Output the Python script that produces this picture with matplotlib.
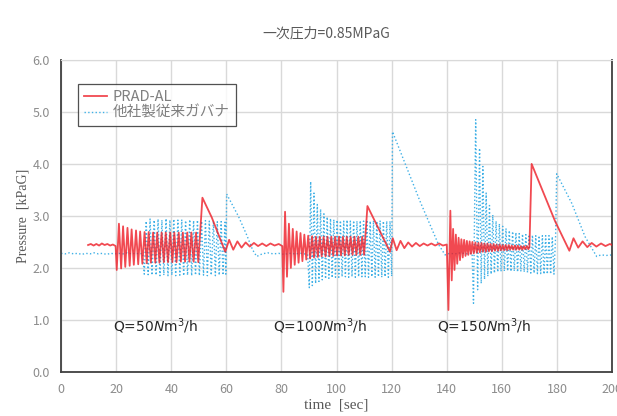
import matplotlib
matplotlib.use("Agg")
import matplotlib.pyplot as plt

plt.rcParams['font.family'] = ['Noto Sans CJK JP', 'DejaVu Sans']
plt.rcParams['mathtext.fontset'] = 'dejavusans'

# PRAD-AL trace (time [sec], pressure [kPaG])
red_t = [9.8, 10.8, 11.8, 12.8, 13.8, 14.8, 15.8, 16.8, 17.8, 18.8, 19.8,
         20.2, 21.0, 21.8, 22.5, 23.3, 24.1, 24.9, 25.6, 26.4, 27.2, 28.0, 28.7, 29.5, 30.3,
         31.1, 31.8, 32.6, 33.4, 34.2, 34.9, 35.7, 36.5, 37.3, 38.0, 38.8, 39.6, 40.4, 41.1,
         41.9, 42.7, 43.5, 44.2, 45.0, 45.8, 46.6, 47.3, 48.1, 49.0, 49.8,
         51.3, 54.7, 59.6,
         61.0, 62.5, 64.0, 65.5, 67.0, 68.5, 70.0, 71.5, 73.0, 74.5, 76.0, 77.5, 79.0, 80.3,
         80.7, 81.3, 82.0, 82.7, 83.4, 84.1, 84.8, 85.5, 86.2, 86.9, 87.6, 88.3, 89.0, 89.7,
         90.4, 91.1, 91.8, 92.5, 93.2, 93.9, 94.6, 95.3, 96.0, 96.7, 97.4, 98.1, 98.8, 99.5,
         100.2, 100.9, 101.6, 102.3, 103.0, 103.7, 104.4, 105.1, 105.8, 106.5, 107.2, 107.9,
         108.6, 109.3, 110.0,
         111.2, 115.3, 119.4,
         120.4, 121.8, 123.2, 124.6, 126.0, 127.4, 128.8, 130.2, 131.6, 133.0, 134.4, 135.8,
         137.2, 138.6, 140.0,
         140.6, 141.3, 141.8, 142.3, 142.8, 143.3, 143.8, 144.3, 144.8, 145.3, 145.8, 146.3,
         146.8, 147.3, 147.8, 148.3, 148.8, 149.3, 149.8, 150.4, 150.9, 151.5, 152.0, 152.6,
         153.1, 153.7, 154.2, 154.8, 155.3, 155.9, 156.4, 157.0, 157.5, 158.1, 158.6, 159.2,
         159.7, 160.3, 160.8, 161.4, 161.9, 162.5, 163.0, 163.6, 164.1, 164.7, 165.2, 165.8,
         166.3, 166.9, 167.4, 168.0, 168.5, 169.1, 169.6, 170.0,
         170.8, 179.3, 184.5,
         186.0, 187.7, 189.3, 191.0, 192.6, 194.3, 196.0, 197.6, 199.2, 200.0]
red_p = [2.44, 2.46, 2.43, 2.46, 2.43, 2.47, 2.44, 2.46, 2.43, 2.45, 2.42,
         1.96, 2.85, 1.99, 2.80, 2.02, 2.77, 2.04, 2.74, 2.06, 2.72, 2.07, 2.70, 2.08, 2.69,
         2.09, 2.69, 2.10, 2.68, 2.10, 2.68, 2.10, 2.68, 2.11, 2.68, 2.11, 2.68, 2.11, 2.68,
         2.11, 2.68, 2.12, 2.68, 2.12, 2.68, 2.12, 2.68, 2.12, 2.68, 2.11,
         3.35, 2.97, 2.31,
         2.54, 2.35, 2.51, 2.39, 2.49, 2.41, 2.48, 2.42, 2.47, 2.42, 2.47, 2.43, 2.46, 2.42,
         1.54, 3.08, 1.83, 2.85, 2.00, 2.75, 2.06, 2.70, 2.10, 2.67, 2.13, 2.64, 2.16, 2.62,
         2.18, 2.61, 2.20, 2.60, 2.21, 2.60, 2.22, 2.60, 2.22, 2.60, 2.23, 2.60, 2.23, 2.60,
         2.24, 2.60, 2.24, 2.60, 2.24, 2.60, 2.25, 2.60, 2.25, 2.60, 2.25, 2.60,
         2.25, 2.60, 2.25,
         3.19, 2.75, 2.31,
         2.57, 2.34, 2.52, 2.38, 2.49, 2.41, 2.48, 2.42, 2.47, 2.43, 2.47, 2.43,
         2.47, 2.43, 2.45,
         1.19, 3.10, 1.76, 2.75, 1.96, 2.64, 2.08, 2.58, 2.15, 2.55, 2.20, 2.54,
         2.23, 2.52, 2.25, 2.51, 2.27, 2.50, 2.28, 2.49, 2.29, 2.48, 2.30, 2.48,
         2.31, 2.47, 2.31, 2.47, 2.32, 2.46, 2.32, 2.46, 2.33, 2.45, 2.33, 2.45,
         2.34, 2.44, 2.34, 2.44, 2.34, 2.44, 2.35, 2.43, 2.35, 2.43, 2.35, 2.43,
         2.35, 2.42, 2.35, 2.42, 2.36, 2.42, 2.36, 2.40,
         4.00, 2.90, 2.33,
         2.57, 2.39, 2.51, 2.40, 2.48, 2.41, 2.47, 2.42, 2.46, 2.44]

# competitor governor trace
blue_t = [0.0, 1.5, 3.0, 4.5, 6.0, 7.5, 9.0, 10.5, 12.0, 13.5, 15.0, 16.5, 18.0, 19.5, 21.0,
          22.5, 24.0, 25.5, 27.0, 28.5, 29.6,
          30.2, 30.9, 31.6, 32.3, 33.0, 33.8, 34.5, 35.2, 35.9, 36.6, 37.3, 38.1, 38.8, 39.5,
          40.2, 40.9, 41.6, 42.4, 43.1, 43.8, 44.5, 45.2, 45.9, 46.7, 47.4, 48.1, 48.8, 49.5,
          50.2, 51.0, 51.7, 52.4, 53.1, 53.8, 54.5, 55.3, 56.0, 56.7, 57.4, 58.1, 58.8, 59.5, 59.8,
          60.1, 64.4, 67.4, 69.5, 71.0,
          73.0, 75.0, 77.0, 79.0, 81.0, 83.0, 85.0, 87.0, 89.5,
          90.1, 90.6, 91.2, 91.8, 92.4, 93.0, 93.6, 94.2, 94.8, 95.4, 96.0, 96.6, 97.2, 97.8,
          98.4, 99.0, 99.6, 100.2, 100.8, 101.4, 102.0, 102.6, 103.2, 103.8, 104.4, 105.0,
          105.6, 106.2, 106.8, 107.4, 108.0, 108.6, 109.2, 109.8, 110.4, 111.0, 111.6, 112.2,
          112.8, 113.4, 114.0, 114.6, 115.2, 115.8, 116.4, 117.0, 117.6, 118.2, 118.8, 119.4, 120.0,
          120.3, 130.3, 137.0, 139.4,
          141.0, 143.0, 145.0, 147.0, 149.2,
          149.7, 150.5, 151.2, 151.9, 152.5, 153.1, 153.7, 154.3, 154.9, 155.5, 156.1, 156.7,
          157.3, 157.9, 158.5, 159.1, 159.7, 160.3, 160.9, 161.5, 162.1, 162.7, 163.3, 163.9,
          164.5, 165.1, 165.7, 166.3, 166.9, 167.5, 168.1, 168.7, 169.3, 169.9, 170.5, 171.1,
          171.7, 172.3, 172.9, 173.5, 174.1, 174.7, 175.3, 175.9, 176.5, 177.1, 177.7, 178.3,
          178.9, 179.5,
          179.9, 185.4, 190.2, 194.4,
          196.0, 198.0, 200.0]
blue_p = [2.28, 2.27, 2.29, 2.27, 2.28, 2.26, 2.28, 2.27, 2.29, 2.27, 2.28, 2.26, 2.28, 2.27, 2.28,
          2.27, 2.29, 2.27, 2.28, 2.27, 2.28,
          1.88, 2.90, 1.87, 2.94, 1.86, 2.92, 1.86, 2.94, 1.85, 2.92, 1.86, 2.95, 1.85, 2.92,
          1.86, 2.94, 1.85, 2.92, 1.86, 2.93, 1.85, 2.91, 1.86, 2.93, 1.85, 2.91, 1.86, 2.92,
          1.85, 2.90, 1.86, 2.91, 1.85, 2.90, 1.86, 2.90, 1.85, 2.89, 1.86, 2.89, 1.86, 2.88, 1.88,
          3.42, 2.99, 2.63, 2.35, 2.22,
          2.27, 2.29, 2.27, 2.28, 2.26, 2.28, 2.27, 2.28, 2.26,
          1.62, 3.66, 1.66, 3.44, 1.70, 3.22, 1.74, 3.13, 1.77, 3.04, 1.79, 2.98, 1.80, 2.95,
          1.81, 2.93, 1.82, 2.92, 1.82, 2.91, 1.83, 2.90, 1.83, 2.92, 1.82, 2.90,
          1.83, 2.91, 1.82, 2.90, 1.83, 2.91, 1.83, 2.90, 1.83, 2.92, 1.82, 2.90,
          1.83, 2.91, 1.82, 2.90, 1.83, 2.91, 1.82, 2.90, 1.83, 2.90, 1.82, 2.90, 1.84,
          4.62, 3.28, 2.45, 2.25,
          2.28, 2.27, 2.29, 2.27, 2.28,
          1.32, 4.85, 1.58, 4.30, 1.70, 3.95, 1.78, 3.44, 1.84, 3.20, 1.88, 3.02,
          1.90, 2.90, 1.92, 2.85, 1.93, 2.80, 1.94, 2.76, 1.94, 2.72, 1.93, 2.70,
          1.94, 2.68, 1.92, 2.66, 1.93, 2.65, 1.92, 2.64, 1.91, 2.64, 1.90, 2.63,
          1.90, 2.62, 1.89, 2.62, 1.89, 2.62, 1.88, 2.62, 1.88, 2.62, 1.88, 2.60,
          1.88, 2.60,
          3.81, 3.24, 2.60, 2.22,
          2.25, 2.24, 2.25]

flow_labels = ['50', '100', '150']
flow_label_t = [19, 77, 136.5]

fig = plt.figure(figsize=(6.17, 4.16), dpi=100)
ax = fig.add_axes([0.099, 0.106, 0.893, 0.750])

ax.plot(red_t, red_p, color='#ee1c25', lw=1.3, alpha=0.8, label='PRAD-AL', zorder=3)
ax.plot(blue_t, blue_p, color='#3fb0e6', lw=1.0, ls=':', label='他社製従来ガバナ', zorder=2)

ax.set_xlim(0, 200)
ax.set_ylim(0, 6)
ax.set_xticks(range(0, 201, 20))
ax.set_yticks([0, 1, 2, 3, 4, 5, 6])
ax.set_yticklabels(['%.1f' % v for v in range(7)])
ax.grid(True, color='#d9d9d9', lw=1.0)
ax.set_axisbelow(True)
ax.tick_params(length=0, labelsize=9, labelcolor='#8c8c8c', pad=8)
for s in ['left', 'bottom', 'right']:
    ax.spines[s].set_color('#404040')
    ax.spines[s].set_linewidth(1.3)
ax.spines['top'].set_color('#d9d9d9')

ax.set_xlabel('time  [sec]', family='Liberation Serif', fontsize=11, color='#595959', labelpad=2)
ax.set_ylabel('Pressure  [kPaG]', family='Liberation Serif', fontsize=10, color='#595959', labelpad=2)

fig.text(0.528, 0.92, '一次圧力=0.85MPaG', ha='center', va='center', fontsize=10, color='#595959')

for lab, t in zip(flow_labels, flow_label_t):
    ax.text(t, 0.88, r'Q=' + lab + r'$\it{N}$m$^3$/h', fontsize=10, color='#262626',
            family='DejaVu Sans', va='center')

leg = ax.legend(loc='upper left', bbox_to_anchor=(0.017, 0.945), fancybox=False,
                edgecolor='#262626', fontsize=10.5, labelcolor='#7f7f7f', handlelength=1.6,
                borderpad=0.4, labelspacing=0.1, handletextpad=0.4)
leg.get_frame().set_linewidth(0.9)

fig.savefig('out.png', dpi=100)
